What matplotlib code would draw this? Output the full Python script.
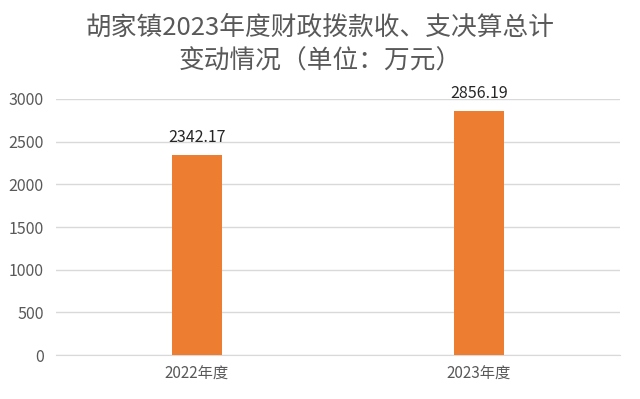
import matplotlib.pyplot as plt
import numpy as np

plt.rcParams['font.family'] = ['Noto Sans CJK SC', 'DejaVu Sans']

# data
categories = ["2022年度", "2023年度"]
values = [2342.17, 2856.19]
yticks = [0, 500, 1000, 1500, 2000, 2500, 3000]

fig = plt.figure(figsize=(6.4, 3.99), dpi=100)
ax = fig.add_axes([0.0875, 0.110, 0.881, 0.642])

x = np.arange(len(categories))
bars = ax.bar(x, values, width=0.175, color="#ED7D31", zorder=3)

for b, v in zip(bars, values):
    ax.text(b.get_x() + b.get_width() / 2, v + 105, f"{v:.2f}",
            ha="center", va="bottom", fontsize=11.5, fontweight="medium",
            color="#262626")

ax.set_xlim(-0.5, 1.5)
ax.set_ylim(0, 3000)
ax.set_yticks(yticks)
ax.set_xticks(x)
ax.set_xticklabels(categories)
ax.yaxis.grid(True, color="#d9d9d9", linewidth=1, zorder=0)
ax.tick_params(axis="both", length=0, labelcolor="#595959")
ax.tick_params(axis="y", pad=9, labelsize=11.5)
ax.tick_params(axis="x", pad=8, labelsize=11)
for s in ["top", "right", "left"]:
    ax.spines[s].set_visible(False)
ax.spines["bottom"].set_color("#d9d9d9")

fig.text(0.5, 0.932, "胡家镇2023年度财政拨款收、支决算总计", ha="center", va="center",
         fontsize=18.5, color="#595959")
fig.text(0.5, 0.845, "变动情况（单位：万元）", ha="center", va="center",
         fontsize=18.5, color="#595959")

fig.savefig("out.png", dpi=100)
